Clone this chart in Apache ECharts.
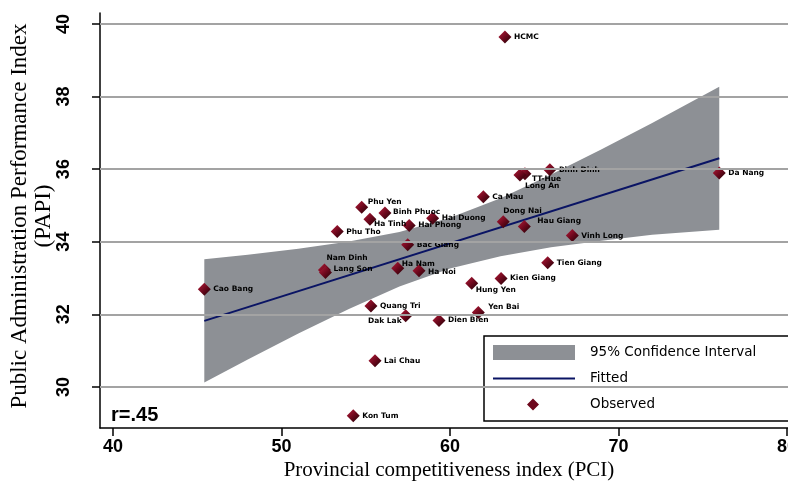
<!DOCTYPE html>
<html><head><meta charset="utf-8">
<script src="https://cdn.jsdelivr.net/npm/echarts@6/dist/echarts.min.js"></script>
<style>html,body{margin:0;padding:0;background:#fff}#c{width:788px;height:483px}</style>
</head><body><div id="c"></div>
<script>
// ---- data ----
const provinces = ['HCMC','Binh Dinh','TT-Hue','Long An','Da Nang','Ca Mau','Phu Yen','Binh Phuoc','Ha Tinh','Hai Duong','Hai Phong','Phu Tho','Dong Nai','Hau Giang','Vinh Long','Bac Giang','Nam Dinh','Lang Son','Ha Nam','Ha Noi','Tien Giang','Kien Giang','Hung Yen','Cao Bang','Quang Tri','Dak Lak','Dien Bien','Yen Bai','Lai Chau','Kon Tum'];
const pciValues = [63.26,65.93,64.45,64.15,75.98,61.98,54.76,56.14,55.25,58.97,57.58,53.31,63.16,64.41,67.26,57.49,52.55,52.61,56.90,58.16,65.80,63.03,61.29,45.42,55.31,57.37,59.35,61.68,55.55,54.26];
const papiValues = [39.64,35.98,35.87,35.84,35.89,35.24,34.95,34.79,34.62,34.65,34.45,34.28,34.55,34.42,34.17,33.92,33.22,33.15,33.27,33.20,33.42,32.99,32.86,32.69,32.23,31.96,31.83,32.05,30.72,29.21];
const ciX     = [45.42, 48, 51, 54, 57, 60, 63, 66, 69, 72, 75.98];
const ciLower = [30.12, 30.76, 31.47, 32.15, 32.77, 33.26, 33.60, 33.85, 34.03, 34.19, 34.33];
const ciUpper = [33.52, 33.64, 33.81, 34.01, 34.27, 34.66, 35.20, 35.85, 36.55, 37.27, 38.27];
const fitX = [45.42, 75.98];
const fitY = [31.82, 36.30];
const xTicks = [40, 50, 60, 70, 80];
const yTicks = [30, 32, 34, 36, 38, 40];
const rText = 'r=.45';
const xTitle = 'Provincial competitiveness index (PCI)';
const yTitle1 = 'Public Administration Performance Index';
const yTitle2 = '(PAPI)';
const legendNames = ['95% Confidence Interval', 'Fitted', 'Observed'];

// ---- label placement (style only) ----
const labelNudge = {
  'TT-Hue':[7,5], 'Long An':[5,11], 'Phu Yen':[6,-5], 'Binh Phuoc':[8,-1], 'Ha Tinh':[4,5],
  'Dong Nai':[0,-11], 'Hau Giang':[13,-5], 'Nam Dinh':[2,-12], 'Lang Son':[8,-4], 'Ha Nam':[4,-4],
  'Ha Noi':[9,1], 'Hung Yen':[4,7], 'Yen Bai':[10,-5]
};
const labelLeftSide = {'Dak Lak':[-4,5]};

const BAND = '#8d9095', NAVY = '#0a1464', GRID = '#a3a3a3';
const SYM = 13, HALF = SYM/2;
const diamondFill = {type:'linear', x:0, y:0, x2:1, y2:1, colorStops:[
  {offset:0, color:'#b81c3a'}, {offset:0.5, color:'#6e081d'}, {offset:1, color:'#1a0003'}]};

const scatterData = provinces.map((p, i) => {
  let label;
  if (labelLeftSide[p]) {
    const n = labelLeftSide[p];
    label = {position:'left', distance:0, align:'right', offset:[n[0] + HALF, n[1]]};
  } else {
    const n = labelNudge[p] || [9, 0];
    label = {position:'right', distance:0, align:'left', offset:[n[0] - HALF, n[1]]};
  }
  return {name:p, value:[pciValues[i], papiValues[i]], label};
});

const ciData = ciX.map((x, i) => [x, ciLower[i], ciUpper[i]]);

const chart = echarts.init(document.getElementById('c'), null, {renderer:'canvas'});
const blank = 'path://M0,0h0.01v0.01h-0.01Z M82,15h-0.01v-0.01h0.01Z ';
chart.setOption({
  animation:false,
  backgroundColor:'#fff',
  grid:{left:100, right:0, top:13, bottom:55, containLabel:false, outerBoundsMode:'none'},
  xAxis:{type:'value', min:39.23, max:80.06,
    axisLine:{show:true, onZero:false, lineStyle:{color:'#000', width:1.5}},
    axisTick:{show:true, customValues:xTicks, length:8, lineStyle:{color:'#000', width:1.5}},
    axisLabel:{show:true, customValues:xTicks, margin:10, fontSize:18, fontWeight:'bold', color:'#000', fontFamily:'Liberation Sans', alignMaxLabel:'center', alignMinLabel:'center', hideOverlap:false},
    splitLine:{show:false}},
  yAxis:{type:'value', min:28.87, max:40.30,
    axisLine:{show:true, onZero:false, lineStyle:{color:'#000', width:1.5}},
    axisTick:{show:true, customValues:yTicks, length:8, lineStyle:{color:'#000', width:1.5}},
    axisLabel:{show:true, customValues:yTicks, rotate:90, margin:27, fontSize:18, fontWeight:'bold', color:'#000', fontFamily:'Liberation Sans'},
    splitLine:{show:false}},
  legend:{orient:'vertical', left:484, top:336, itemWidth:82, itemHeight:15, itemGap:11,
    padding:[9,120,9,9], borderColor:'#000', borderWidth:1.5, backgroundColor:'#fff', borderRadius:0,
    selectedMode:false,
    textStyle:{fontFamily:'DejaVu Sans', fontSize:13.5, color:'#000', padding:[0,0,0,10]},
    data:[
      {name:legendNames[0], icon:'rect', itemStyle:{color:BAND}},
      {name:legendNames[1], icon:blank + 'M0,6.5H82V8.5H0Z', itemStyle:{color:NAVY}},
      {name:legendNames[2], icon:blank + 'M40,1.5L46,7.5L40,13.5L34,7.5Z', itemStyle:{color:'#6e081d'}}
    ]},
  graphic:[
    {type:'text', x:449, y:470, style:{text:xTitle, font:'21px "Liberation Serif"', fill:'#000', textAlign:'center', textVerticalAlign:'middle'}},
    {type:'text', x:20, y:216, rotation:Math.PI/2, style:{text:yTitle1, font:'23px "Liberation Serif"', fill:'#000', textAlign:'center', textVerticalAlign:'middle'}},
    {type:'text', x:44, y:216, rotation:Math.PI/2, style:{text:yTitle2, font:'23px "Liberation Serif"', fill:'#000', textAlign:'center', textVerticalAlign:'middle'}},
    {type:'text', x:111, y:415, z:100, style:{text:rText, font:'bold 20px "Liberation Sans"', fill:'#000', textAlign:'left', textVerticalAlign:'middle'}}
  ],
  series:[
    {name:'grid', type:'line', data:[], z:1, silent:true,
      markLine:{silent:true, symbol:'none', animation:false, label:{show:false},
        lineStyle:{color:GRID, width:2, type:'solid'},
        data:yTicks.map(v => ({yAxis:v}))}},
    {name:legendNames[0], type:'custom', z:2, data:ciData, encode:{x:0, y:[1,2]},
      itemStyle:{color:BAND}, clip:true,
      renderItem:function(params, api){
        if (params.dataIndex !== 0) return null;
        const pts = [];
        for (let i = 0; i < ciX.length; i++) pts.push(api.coord([ciX[i], ciUpper[i]]));
        for (let i = ciX.length - 1; i >= 0; i--) pts.push(api.coord([ciX[i], ciLower[i]]));
        return {type:'polygon', shape:{points:pts}, style:{fill:BAND, stroke:null}};
      }},
    {name:legendNames[1], type:'line', z:3, data:fitX.map((x,i)=>[x, fitY[i]]), symbol:'none',
      lineStyle:{color:NAVY, width:2}, itemStyle:{color:NAVY}},
    {name:legendNames[2], type:'scatter', z:4, data:scatterData, symbol:'diamond', symbolSize:SYM,
      itemStyle:{color:diamondFill, opacity:1},
      label:{show:true, formatter:'{b}', fontSize:7.5, fontWeight:'bold', fontFamily:'DejaVu Sans', color:'#000', opacity:1, verticalAlign:'middle'}}
  ]
});
</script></body></html>
